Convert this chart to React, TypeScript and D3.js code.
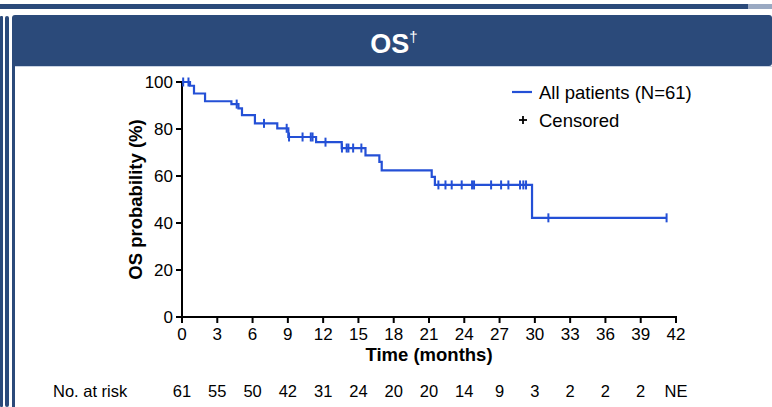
import React from "react";
import * as d3 from "d3";

// ---- Data ----
const eventTimes = [0.68, 1.02, 1.96, 4.2, 4.8, 5.1, 6.2, 8.1, 9.04, 11.4, 13.58, 15.6, 16.78, 16.98, 21.23, 21.5, 29.76];
const survivalAfter = [98.4, 95.1, 91.8, 90.6, 88.8, 85.9, 82.4, 80.3, 76.6, 74.4, 71.9, 68.8, 66.0, 62.4, 59.6, 56.2, 42.2];
const censorTimes = [0.1, 0.55, 4.65, 6.97, 8.9, 9.1, 10.25, 10.95, 11.1, 12.2, 13.6, 14.0, 14.15, 14.55, 15.25, 21.8, 22.4, 22.93, 23.78, 24.66, 24.83, 26.28, 27.13, 27.75, 28.74, 29.02, 29.25, 31.15, 41.2];
const lastFollowUp = 41.2;
const xTicks = [0, 3, 6, 9, 12, 15, 18, 21, 24, 27, 30, 33, 36, 39, 42];
const yTicks = [0, 20, 40, 60, 80, 100];
const atRisk = ["61", "55", "50", "42", "31", "24", "20", "20", "14", "9", "3", "2", "2", "2", "NE"];
const title = "OS";
const seriesLabel = "All patients (N=61)";
const censorLabel = "Censored";

const W = 772;
const H = 407;
const FONT = "'Liberation Sans', Arial, Helvetica, sans-serif";
const NAVY = "#2B4A7A";
const BLUE = "#2450D6";

export default function App() {
  const x = d3.scaleLinear().domain([0, 42]).range([182, 676]);
  const y = d3.scaleLinear().domain([0, 100]).range([317, 82]);

  const survAt = (t: number) => {
    let s = 100;
    for (let i = 0; i < eventTimes.length; i++) if (eventTimes[i] <= t) s = survivalAfter[i];
    return s;
  };

  const pts: [number, number][] = [[0, 100]];
  eventTimes.forEach((t, i) => pts.push([t, survivalAfter[i]]));
  pts.push([lastFollowUp, survAt(lastFollowUp)]);

  const line = d3
    .line<[number, number]>()
    .x((d) => x(d[0]))
    .y((d) => y(d[1]))
    .curve(d3.curveStepAfter);

  return (
    <svg
      width={W}
      height={H}
      style={{ position: "absolute", left: 0, top: 0, background: "#fff" }}
      fontFamily={FONT}
    >
      <rect x={0} y={0} width={W} height={H} fill="#fff" />
      {/* frame decorations */}
      <rect x={0} y={4} width={748} height={5} fill={NAVY} />
      <rect x={748} y={4} width={24} height={5} fill="#9AA9C2" />
      <rect x={0} y={16} width={3} height={H - 16} fill={NAVY} rx={1} />
      <rect x={5} y={16} width={4} height={H - 16} fill={NAVY} rx={2} />
      <rect x={12} y={15} width={W - 12} height={51} fill={NAVY} rx={3} />
      <rect x={12} y={60} width={3} height={H - 60} fill={NAVY} />
      <line x1={15} x2={W} y1={66.5} y2={66.5} stroke="#C9D3E3" strokeWidth={1} />

      {/* title */}
      <text x={394} y={53} textAnchor="middle" fill="#fff" fontWeight="bold" fontSize={27}>
        {title}
        <tspan fontSize={15} dy={-11} fontWeight="normal">†</tspan>
      </text>

      {/* axes */}
      <line x1={x(0)} x2={x(0)} y1={y(100) - 1} y2={y(0) + 1} stroke="#000" strokeWidth={2} />
      <line x1={x(0) - 1} x2={x(42) + 1} y1={y(0)} y2={y(0)} stroke="#000" strokeWidth={2} />
      {yTicks.map((t) => (
        <g key={"y" + t}>
          <line x1={x(0) - 6} x2={x(0)} y1={y(t)} y2={y(t)} stroke="#000" strokeWidth={2} />
          <text x={x(0) - 9} y={y(t)} dy="0.35em" textAnchor="end" fontSize={17} fill="#000">
            {t}
          </text>
        </g>
      ))}
      {xTicks.map((t) => (
        <g key={"x" + t}>
          <line x1={x(t)} x2={x(t)} y1={y(0)} y2={y(0) + 6} stroke="#000" strokeWidth={2} />
          <text x={x(t)} y={340} textAnchor="middle" fontSize={17} fill="#000">
            {t}
          </text>
        </g>
      ))}
      <text
        transform={`translate(142,${y(50)}) rotate(-90)`}
        textAnchor="middle"
        fontWeight="bold"
        fontSize={18.5}
        fill="#000"
      >
        OS probability (%)
      </text>
      <text x={429} y={361} textAnchor="middle" fontWeight="bold" fontSize={18.5} fill="#000">
        Time (months)
      </text>

      {/* KM curve */}
      <path d={line(pts) || ""} fill="none" stroke={BLUE} strokeWidth={2.2} />
      {censorTimes.map((t, i) => (
        <g key={"c" + i} stroke={BLUE} strokeWidth={2}>
          <line x1={x(t)} x2={x(t)} y1={y(survAt(t)) - 4.5} y2={y(survAt(t)) + 4.5} />
        </g>
      ))}

      {/* legend */}
      <line x1={512} x2={532} y1={92} y2={92} stroke={BLUE} strokeWidth={2.2} />
      <text x={539} y={98.5} fontSize={18.5} fill="#000">{seriesLabel}</text>
      <g stroke="#000" strokeWidth={1.8}>
        <line x1={519} x2={527} y1={120} y2={120} />
        <line x1={523} x2={523} y1={116} y2={124} />
      </g>
      <text x={539} y={126.5} fontSize={18.5} fill="#000">{censorLabel}</text>

      {/* number at risk */}
      <text x={53} y={397} fontSize={16.5} fill="#000">No. at risk</text>
      {atRisk.map((v, i) => (
        <text key={"r" + i} x={x(xTicks[i])} y={397} textAnchor="middle" fontSize={16.5} fill="#000">
          {v}
        </text>
      ))}
    </svg>
  );
}
